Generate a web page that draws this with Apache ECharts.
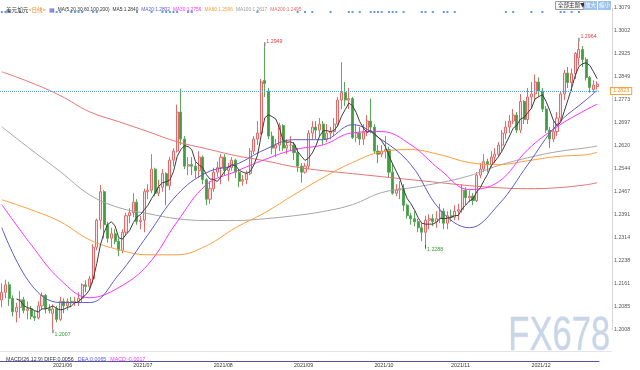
<!DOCTYPE html>
<html><head><meta charset="utf-8">
<script src="https://cdn.jsdelivr.net/npm/echarts@6/dist/echarts.min.js"></script>
<style>html,body{margin:0;padding:0;background:#fff}#c{width:640px;height:370px}</style>
</head><body><div id="c"></div><script>
// ---- categories (trading days) ----
const tradingDays = {
 '2021/05':[12,13,14,17,18,19,20,21,24,25,26,27,28,31],
 '2021/06':[1,2,3,4,7,8,9,10,11,14,15,16,17,18,21,22,23,24,25,28,29,30],
 '2021/07':[1,2,5,6,7,8,9,12,13,14,15,16,19,20,21,22,23,26,27,28,29,30],
 '2021/08':[2,3,4,5,6,9,10,11,12,13,16,17,18,19,20,23,24,25,26,27,30,31],
 '2021/09':[1,2,3,6,7,8,9,10,13,14,15,16,17,20,21,22,23,24,27,28,29,30],
 '2021/10':[1,4,5,6,7,8,11,12,13,14,15,18,19,20,21,22,25,26,27,28,29],
 '2021/11':[1,2,3,4,5,8,9,10,11,12,15,16,17,18,19,22,23,24,25,26,29,30],
 '2021/12':[1,2,3,6,7,8,9,10,13,14,15,16,17,20,21,22,23,24,27]
};
// ---- OHLC values ----
const open  = [1.2105,1.2130,1.2155,1.2110,1.2065,1.2080,1.2105,1.2070,1.2075,1.2050,1.2045,1.2085,1.2120,1.2075,
 1.2060,1.2075,1.2040,1.2100,1.2085,1.2100,1.2095,1.2100,1.2110,1.2155,1.2150,1.2175,1.2280,1.2370,1.2465,1.2355,1.2310,1.2325,1.2300,1.2270,1.2330,1.2385,
 1.2395,1.2430,1.2365,1.2370,1.2465,1.2470,1.2540,1.2460,1.2480,1.2525,1.2485,1.2570,1.2600,1.2730,1.2640,1.2550,1.2555,1.2550,1.2535,1.2580,1.2505,1.2440,
 1.2475,1.2530,1.2545,1.2580,1.2535,1.2545,1.2570,1.2530,1.2500,1.2505,1.2525,1.2600,1.2640,1.2660,1.2835,1.2800,1.2650,1.2610,1.2620,1.2685,1.2610,1.2620,
 1.2620,1.2595,1.2550,1.2530,1.2550,1.2660,1.2680,1.2670,1.2690,1.2640,1.2660,1.2665,1.2690,1.2770,1.2795,1.2770,1.2775,1.2645,1.2660,1.2640,1.2665,1.2700,
 1.2680,1.2600,1.2590,1.2600,1.2605,1.2530,1.2460,1.2470,1.2475,1.2420,1.2385,1.2375,1.2365,1.2345,1.2330,1.2370,1.2375,1.2365,1.2375,1.2400,1.2360,
 1.2385,1.2380,1.2400,1.2405,1.2470,1.2445,1.2450,1.2435,1.2520,1.2540,1.2565,1.2555,1.2580,1.2590,1.2620,1.2660,1.2680,1.2700,1.2720,1.2670,1.2765,1.2705,
 1.2780,1.2790,1.2830,1.2800,1.2740,1.2670,1.2640,1.2665,1.2710,1.2790,1.2860,1.2828,1.2858,1.2910,1.2938,1.2905,1.2845,1.2805,1.2815];
const close = [1.2130,1.2155,1.2110,1.2065,1.2080,1.2105,1.2070,1.2075,1.2050,1.2045,1.2085,1.2120,1.2075,1.2070,
 1.2075,1.2040,1.2100,1.2085,1.2100,1.2095,1.2100,1.2110,1.2155,1.2150,1.2175,1.2280,1.2370,1.2465,1.2355,1.2310,1.2325,1.2300,1.2270,1.2330,1.2385,1.2395,
 1.2430,1.2365,1.2370,1.2465,1.2470,1.2540,1.2460,1.2480,1.2525,1.2485,1.2570,1.2600,1.2730,1.2640,1.2550,1.2555,1.2550,1.2535,1.2580,1.2505,1.2440,1.2475,
 1.2530,1.2545,1.2580,1.2535,1.2545,1.2570,1.2530,1.2500,1.2505,1.2525,1.2600,1.2640,1.2660,1.2830,1.2825,1.2650,1.2610,1.2620,1.2685,1.2610,1.2620,1.2620,
 1.2595,1.2550,1.2530,1.2550,1.2660,1.2680,1.2670,1.2690,1.2640,1.2660,1.2665,1.2690,1.2770,1.2795,1.2770,1.2775,1.2645,1.2660,1.2640,1.2665,1.2700,1.2680,
 1.2600,1.2590,1.2600,1.2605,1.2530,1.2460,1.2470,1.2475,1.2420,1.2385,1.2375,1.2365,1.2345,1.2330,1.2370,1.2375,1.2365,1.2375,1.2400,1.2360,1.2385,
 1.2380,1.2400,1.2405,1.2470,1.2445,1.2450,1.2435,1.2520,1.2540,1.2565,1.2555,1.2580,1.2590,1.2620,1.2660,1.2680,1.2700,1.2720,1.2670,1.2765,1.2705,1.2780,
 1.2790,1.2830,1.2800,1.2740,1.2670,1.2640,1.2665,1.2710,1.2790,1.2860,1.2828,1.2858,1.2925,1.2938,1.2905,1.2845,1.2812,1.2820,1.2823];
const low   = [1.2080,1.2110,1.2085,1.2050,1.2030,1.2045,1.2060,1.2040,1.2040,1.2035,1.2040,1.2075,1.2060,1.2060,
 1.2007,1.2030,1.2035,1.2060,1.2070,1.2080,1.2085,1.2085,1.2095,1.2130,1.2140,1.2160,1.2270,1.2340,1.2310,1.2295,1.2280,1.2290,1.2250,1.2260,1.2320,1.2360,
 1.2380,1.2355,1.2340,1.2330,1.2440,1.2460,1.2450,1.2450,1.2465,1.2420,1.2470,1.2550,1.2595,1.2620,1.2540,1.2520,1.2520,1.2510,1.2510,1.2490,1.2420,1.2425,
 1.2465,1.2515,1.2490,1.2520,1.2500,1.2535,1.2510,1.2480,1.2485,1.2490,1.2520,1.2590,1.2620,1.2655,1.2780,1.2640,1.2590,1.2580,1.2600,1.2600,1.2590,1.2600,
 1.2570,1.2530,1.2495,1.2525,1.2540,1.2640,1.2640,1.2650,1.2620,1.2630,1.2640,1.2650,1.2680,1.2740,1.2750,1.2740,1.2640,1.2630,1.2620,1.2620,1.2650,1.2660,
 1.2590,1.2560,1.2580,1.2575,1.2510,1.2455,1.2450,1.2440,1.2400,1.2375,1.2355,1.2350,1.2330,1.2300,1.2288,1.2340,1.2350,1.2345,1.2360,1.2340,1.2340,
 1.2365,1.2370,1.2370,1.2395,1.2420,1.2430,1.2420,1.2430,1.2510,1.2530,1.2530,1.2545,1.2560,1.2580,1.2600,1.2640,1.2660,1.2690,1.2660,1.2660,1.2690,1.2690,
 1.2740,1.2770,1.2780,1.2730,1.2660,1.2610,1.2630,1.2650,1.2700,1.2770,1.2810,1.2800,1.2840,1.2885,1.2880,1.2835,1.2795,1.2795,1.2805];
const high  = [1.2160,1.2172,1.2165,1.2120,1.2095,1.2135,1.2115,1.2100,1.2085,1.2070,1.2100,1.2130,1.2125,1.2090,
 1.2090,1.2085,1.2115,1.2110,1.2110,1.2115,1.2115,1.2130,1.2160,1.2170,1.2185,1.2290,1.2375,1.2487,1.2470,1.2365,1.2345,1.2340,1.2310,1.2340,1.2395,1.2410,
 1.2460,1.2440,1.2385,1.2475,1.2490,1.2590,1.2545,1.2505,1.2540,1.2530,1.2580,1.2610,1.2755,1.2808,1.2650,1.2580,1.2580,1.2565,1.2600,1.2585,1.2510,1.2500,
 1.2545,1.2565,1.2590,1.2590,1.2560,1.2580,1.2575,1.2540,1.2520,1.2535,1.2610,1.2650,1.2700,1.2840,1.2949,1.2810,1.2665,1.2640,1.2695,1.2690,1.2640,1.2650,
 1.2630,1.2610,1.2560,1.2560,1.2670,1.2700,1.2700,1.2710,1.2700,1.2690,1.2680,1.2710,1.2780,1.2896,1.2830,1.2810,1.2780,1.2690,1.2680,1.2690,1.2720,1.2775,
 1.2690,1.2620,1.2620,1.2650,1.2615,1.2560,1.2490,1.2500,1.2490,1.2425,1.2395,1.2400,1.2375,1.2360,1.2385,1.2390,1.2390,1.2400,1.2425,1.2410,1.2400,
 1.2405,1.2420,1.2425,1.2490,1.2480,1.2470,1.2460,1.2530,1.2560,1.2590,1.2575,1.2600,1.2610,1.2630,1.2670,1.2700,1.2720,1.2740,1.2730,1.2790,1.2770,1.2810,
 1.2830,1.2855,1.2845,1.2810,1.2750,1.2680,1.2700,1.2730,1.2800,1.2870,1.2880,1.2875,1.2930,1.2964,1.2950,1.2912,1.2850,1.2835,1.2832];
// ---- moving averages at sample candles ----
const maIdx  = [0,8,16,24,32,40,48,56,64,72,80,88,96,104,112,120,128,136,144,152,160,163];
const ma20   = [1.2345,1.2156,1.2096,1.2096,1.2189,1.2322,1.2455,1.2528,1.2555,1.2605,1.2638,1.2638,1.2688,1.2638,1.2555,1.2405,1.2345,1.2422,1.2555,1.2688,1.2771,1.2802];
const ma30   = [1.2422,1.2289,1.2172,1.2112,1.2146,1.2222,1.2365,1.2488,1.2532,1.2572,1.2605,1.2621,1.2661,1.2665,1.2621,1.2538,1.2472,1.2498,1.2605,1.2681,1.2738,1.2756];
const ma60   = [1.2438,1.2405,1.2365,1.2305,1.2272,1.2255,1.2255,1.2285,1.2345,1.2395,1.2455,1.2512,1.2562,1.2598,1.2605,1.2588,1.2562,1.2555,1.2568,1.2582,1.2588,1.2596];
const ma100  = [1.2681,1.2605,1.2532,1.2455,1.2412,1.2392,1.2375,1.2369,1.2369,1.2375,1.2385,1.2399,1.2422,1.2462,1.2478,1.2495,1.2518,1.2552,1.2578,1.2598,1.2611,1.2617];
const ma200  = [1.2864,1.2828,1.2785,1.2731,1.2698,1.2665,1.2631,1.2608,1.2585,1.2568,1.2548,1.2535,1.2525,1.2515,1.2505,1.2495,1.2485,1.2478,1.2475,1.2478,1.2488,1.2495];
const maLegend = [['MA5','1.2840'],['MA20','1.2802'],['MA30','1.2756'],['MA60','1.2596'],['MA100','1.2617'],['MA200','1.2495']];
const macdLegend = {DIFF:'0.0056', DEA:'0.0065', MACD:'-0.0017'};
// ---- annotated extremes ----
const extIdx  = [14, 72, 116, 158];
const extVal  = [1.2007, 1.2949, 1.2288, 1.2964];
const extKind = ['low','high','low','high'];
// ---- event marker candles ----
const eventIdx = [0,1,2,5,15,16,19,20,21,22,25,26,37,41,44,45,46,47,48,51,52,70,81,83,85,90,95,96,98,101,102,103,104,106,107,108,110,115,116,118,121,122,124,138,140,145,148,153,154,156,158];
// ---- y axis ticks ----
const yTickLabels = ['1.2008','1.2085','1.2161','1.2238','1.2314','1.2391','1.2467','1.2544','1.2620','1.2697','1.2773','1.2849','1.2925','1.3002','1.3079'];

const yMin = 1.2007, yMax = 1.3078, yStep = (yMax - yMin) / 14;
const dates = [];
const monthStart = [];
Object.keys(tradingDays).forEach(m => tradingDays[m].forEach((d, k) => {
  dates.push(m + '/' + String(d).padStart(2, '0')); monthStart.push(k === 0);
}));
const N = dates.length;
const candle = dates.map((d, i) => [open[i], close[i], low[i], high[i]]);
const ma5 = close.map((c, i) => i < 4 ? null : +((close[i] + close[i-1] + close[i-2] + close[i-3] + close[i-4]) / 5).toFixed(5));
const samp = vals => maIdx.map((ix, k) => [ix, vals[k]]);
const last = close[N - 1];

const FONT = 'Liberation Sans';
const FS = 5.3;
const LFS = 4.8;
const chart = echarts.init(document.getElementById('c'));
const maColors = {MA5:'#3c3c3c', MA20:'#5a5ac8', MA30:'#ff33ff', MA60:'#ff9d3a', MA100:'#a5a5a5', MA200:'#e77474'};
const legendColors = ['#333', '#5a5ac8', '#ff33ff', '#ff9d3a', '#999', '#e86a6a'];

const lineS = (name, data, smooth) => ({
  type: 'line', name, data, xAxisIndex: 0, yAxisIndex: 0, showSymbol: false, smooth,
  connectNulls: true, silent: true, lineStyle: {width: 1, color: maColors[name]}, z: 3
});

const richMA = {s: {width: 3, fontSize: LFS}};
maLegend.forEach((m, k) => { richMA['m' + k] = {fontSize: LFS, color: legendColors[k], fontFamily: FONT}; });

chart.setOption({
  animation: false,
  textStyle: {fontFamily: FONT},
  title: [{
    left: 1, top: 2,
    text: '{a|美元加元}{b|<日线>}{s| }{i|▦}{s| }{c|MA(5,20,30,60,100,200)}{s| }' +
      maLegend.map((m, k) => '{m' + k + '|' + m[0] + ':' + m[1] + '}').join('{s| }'),
    textStyle: {fontSize: LFS, fontWeight: 'normal', rich: Object.assign({
      a: {fontSize: 5.6, color: '#333', fontFamily: 'Noto Sans CJK SC'},
      b: {fontSize: 5.6, color: '#f08a24', fontFamily: 'Noto Sans CJK SC'},
      i: {fontSize: 6, color: '#5a5ac8', fontFamily: FONT},
      c: {fontSize: LFS, color: '#333', fontFamily: FONT}
    }, richMA)}
  }, {
    left: 1, top: 352.5,
    text: '{c|MACD(26,12,9) DIFF:' + macdLegend.DIFF + '}{s| }{d|DEA:' + macdLegend.DEA + '}{s| }{m|MACD:' + macdLegend.MACD + '}',
    textStyle: {fontSize: FS, fontWeight: 'normal', rich: {
      s: {width: 4, fontSize: FS},
      c: {fontSize: FS, color: '#333', fontFamily: FONT}, d: {fontSize: FS, color: '#5a5ac8', fontFamily: FONT}, m: {fontSize: FS, color: '#ff33ff', fontFamily: FONT}
    }}
  }],
  grid: [
    {left: 0, right: 41, top: 7.5, bottom: 40.7},
    {left: 0, right: 41, top: 360.5, height: 1},
    {left: 0, right: 41, top: 11, height: 2}
  ],
  xAxis: [
    {type: 'category', gridIndex: 0, data: dates, boundaryGap: true,
     axisLine: {show: false}, axisTick: {show: false}, axisLabel: {show: false}, splitLine: {show: false}},
    {type: 'category', gridIndex: 1, data: dates, boundaryGap: true,
     axisLine: {show: true, lineStyle: {color: '#5252a8', width: 1}}, axisTick: {show: false},
     axisLabel: {fontSize: FS, color: '#333', margin: 2, align: 'left',
       interval: (i, v) => monthStart[i] && !v.startsWith('2021/05'),
       formatter: v => v.slice(0, 7)}},
    {type: 'category', gridIndex: 2, data: dates, boundaryGap: true, show: false}
  ],
  yAxis: [
    {type: 'value', gridIndex: 0, position: 'right', min: yMin, max: yMax, interval: yStep, offset: 13,
     axisLine: {show: true, lineStyle: {color: '#d0d0d0', type: 'dotted'}}, axisTick: {show: false}, splitLine: {show: false},
     axisLabel: {fontSize: FS, color: '#555', margin: 2,
       formatter: v => yTickLabels[Math.round((v - yMin) / yStep)]}},
    {type: 'value', gridIndex: 1, show: false},
    {type: 'value', gridIndex: 2, show: false, min: 0, max: 1}
  ],
  series: [
    {type: 'candlestick', name: 'K', data: candle, xAxisIndex: 0, yAxisIndex: 0, barWidth: '70%', silent: true, z: 2, clip: false,
     itemStyle: {color: '#fde4e4', color0: '#3f9c3f', borderColor: '#e46a6a', borderColor0: '#58a858', borderWidth: 1},
     markLine: {symbol: 'none', silent: true, data: [{yAxis: last}],
       lineStyle: {color: '#5aa7ef', type: 'dotted', width: 1},
       label: {show: true, position: 'end', distance: 12, formatter: () => last.toFixed(4),
         fontSize: FS, color: '#f0901e', backgroundColor: '#fff', borderColor: '#f5a540', borderWidth: 1, padding: [1, 2, 0, 2]}},
     markPoint: {silent: true, data: extIdx.map((ix, k) => {
        const hi = extKind[k] === 'high';
        return {coord: [ix, extVal[k]], value: extVal[k].toFixed(4), symbol: 'rect', symbolSize: [1, 4],
          symbolOffset: [0, hi ? -2 : 2], itemStyle: {color: '#555'},
          label: {show: true, position: 'right', distance: 1, offset: [0, hi ? -3 : 3], fontSize: FS,
            color: hi ? '#e03a3a' : '#3a9a3a', formatter: p => p.value}};
      })}},
    lineS('MA200', samp(ma200), 0.4),
    lineS('MA100', samp(ma100), 0.4),
    lineS('MA60', samp(ma60), 0.4),
    lineS('MA30', samp(ma30), 0.4),
    lineS('MA20', samp(ma20), 0.4),
    lineS('MA5', ma5.map((v, i) => [i, v]), false),
    {type: 'scatter', xAxisIndex: 2, yAxisIndex: 2, data: eventIdx.map(i => [i, 0.5]), symbol: 'rect', symbolSize: 2,
     itemStyle: {color: '#3b85d6'}, silent: true}
  ],
  graphic: [
    {type: 'line', shape: {x1: 0, y1: 351.5, x2: 612, y2: 351.5}, style: {stroke: '#e4e4e4', lineWidth: 1}, silent: true},
    {type: 'text', left: 508, top: 312, scaleX: 0.72, style: {text: 'FX678', font: '48px "Liberation Sans"', fill: '#c9d6e7', stroke: '#e6edf5', lineWidth: 1}, silent: true, z: 0},
    {type: 'rect', shape: {x: 555.5, y: 1.5, width: 28, height: 8}, style: {fill: '#f6f6f6', stroke: '#9a9a9a', lineWidth: 1}},
    {type: 'text', x: 558, y: 2.5, style: {text: '全部主题▼', font: '5.5px "Noto Sans CJK SC"', fill: '#333'}},
    {type: 'rect', shape: {x: 584, y: 1, width: 13, height: 9}, style: {fill: '#9fc2ea'}},
    {type: 'text', x: 585, y: 2.5, style: {text: '放大', font: '5.5px "Noto Sans CJK SC"', fill: '#fff'}},
    {type: 'rect', shape: {x: 598, y: 1, width: 13, height: 9}, style: {fill: '#9fc2ea'}},
    {type: 'text', x: 599, y: 2.5, style: {text: '缩小', font: '5.5px "Noto Sans CJK SC"', fill: '#fff'}}
  ]
});
</script></body></html>
